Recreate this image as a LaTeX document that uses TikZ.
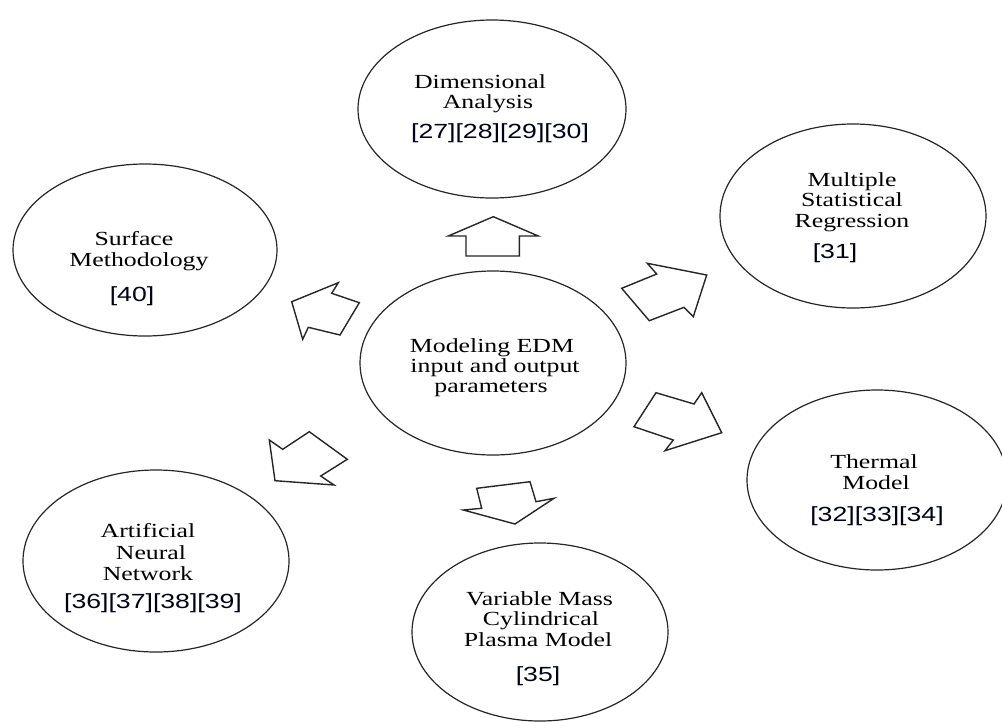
\documentclass[tikz,border=0pt]{standalone}
\usepackage{fontspec}
\setmainfont[FakeStretch=1.29]{Liberation Serif}
\newfontfamily\reffont[FakeStretch=1.3]{Liberation Sans}
\usetikzlibrary{shapes.geometric}
\begin{document}
\begin{tikzpicture}[x=1pt,y=-1pt,
  bub/.style={draw=black!85, line width=1.2pt, ellipse, inner sep=0pt},
  lbl/.style={anchor=base, inner sep=0pt, font=\fontsize{20}{21}\selectfont},
  rlbl/.style={anchor=base, inner sep=0pt, font=\reffont\fontsize{20.5}{21}\selectfont, text=black!90!blue},
  blk/.style={draw=black!85, line width=1.4pt, line join=miter, fill=white}]
\useasboundingbox[fill=white] (0,0) rectangle (1002,721);

% ellipses
\node[bub, minimum width=268pt, minimum height=178pt] (dim) at (492,109) {};
\node[bub, minimum width=266pt, minimum height=184pt] (msr) at (853,216) {};
\node[bub, minimum width=264pt, minimum height=172pt] (srf) at (145,250) {};
\node[bub, minimum width=266pt, minimum height=184pt] (ctr) at (493,363) {};
\node[bub, minimum width=260pt, minimum height=180pt] (thm) at (877,480) {};
\node[bub, minimum width=266pt, minimum height=182pt] (ann) at (156,561) {};
\node[bub, minimum width=256pt, minimum height=178pt] (vmc) at (540,632) {};

% texts
\node[lbl] (ctr1) at (492,352) {Modeling EDM};
\node[lbl] (ctr2) at (495,372) {input and output};
\node[lbl] (ctr3) at (491,392) {parameters};

\node[lbl] (dim1) at (480,88) {Dimensional};
\node[lbl] (dim2) at (488,108) {Analysis};
\node[rlbl] (dim3) at (500,138) {[27][28][29][30]};

\node[lbl] (msr1) at (852,186) {Multiple};
\node[lbl] (msr2) at (852,206.5) {Statistical};
\node[lbl] (msr3) at (852,227) {Regression};
\node[rlbl] (msr4) at (835,258) {[31]};

\node[lbl] (srf1) at (134,245) {Surface};
\node[lbl] (srf2) at (139,266) {Methodology};
\node[rlbl] (srf3) at (132,301.5) {[40]};

\node[lbl] (thm1) at (874,468) {Thermal};
\node[lbl] (thm2) at (876,489) {Model};
\node[rlbl] (thm3) at (877,521) {[32][33][34]};

\node[lbl] (ann1) at (148,537) {Artificial};
\node[lbl] (ann2) at (151,559) {Neural};
\node[lbl] (ann3) at (148,580) {Network};
\node[rlbl] (ann4) at (153,608) {[36][37][38][39]};

\node[lbl] (vmc1) at (539.5,605) {Variable Mass};
\node[lbl] (vmc2) at (541,625) {Cylindrical};
\node[lbl] (vmc3) at (538,646.5) {Plasma Model};
\node[rlbl] (vmc4) at (538,681) {[35]};

% block arrows
% up (to Dimensional Analysis)
\draw[blk] (466,256) -- (466,236) -- (448.3,236) -- (493.3,216.7) -- (538.3,236) -- (519.3,236) -- (519.3,256) -- cycle;
% upper right (to Multiple Statistical Regression)
\draw[blk] (621.7,288.3) -- (656.7,274) -- (647.3,263.3) -- (706.7,275) -- (693.3,316.7) -- (684,307.3) -- (649.3,320.7) -- cycle;
% lower right (to Thermal Model)
\draw[blk] (634,426.7) -- (656,392.7) -- (694,404) -- (701.7,392.7) -- (721.7,432.7) -- (665,450.7) -- (673.3,440) -- cycle;
% down (to Variable Mass)
\draw[blk] (476.7,488.3) -- (530,481.7) -- (536,501.7) -- (554,498.3) -- (515,524) -- (463.3,510) -- (481.7,508.3) -- cycle;
% lower left (to ANN)
\draw[blk] (309.3,431.7) -- (347.3,459.3) -- (320.7,476) -- (334,485) -- (275,480.7) -- (269.3,440) -- (282.7,449.3) -- cycle;
% upper left (to Surface Methodology)
\draw[blk] (291.7,301.7) -- (338.3,282.7) -- (331.7,293.3) -- (359.3,302.7) -- (340,335) -- (308.3,327.3) -- (302.7,339.3) -- cycle;
\end{tikzpicture}
\end{document}
